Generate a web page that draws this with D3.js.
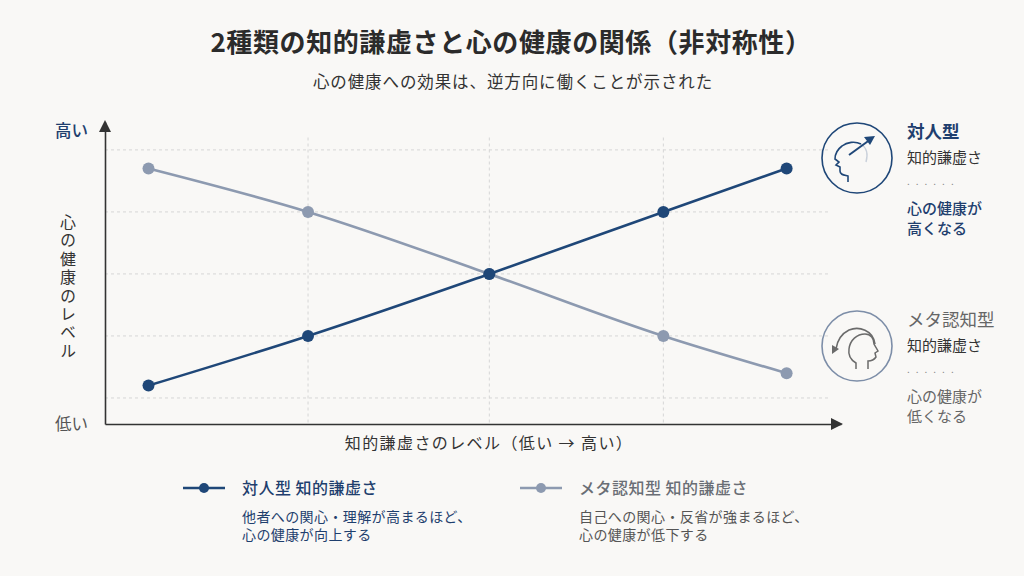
<!DOCTYPE html>
<html>
<head>
<meta charset="utf-8">
<script src="https://cdn.jsdelivr.net/npm/d3@7"></script>
<style>
  body { margin: 0; background: #f9f8f6; }
  svg text { font-family: "Noto Sans CJK JP", "Noto Sans", sans-serif; }
</style>
</head>
<body>
<svg class="chart" width="1024" height="576"></svg>
<script>
// 2 kinds of intellectual humility vs. mental health

var levels = [6, 28, 53, 77, 94];               // humility level (x)
var interpersonal = [1.2, 2.0, 3.0, 4.0, 4.7];   // 対人型
var metacognitive = [4.7, 4.0, 3.0, 2.0, 1.4];   // メタ認知型
var yGrid = [1, 2, 3, 4, 5];
var xGrid = [28, 53, 77];

var seriesNames = ["対人型 知的謙虚さ", "メタ認知型 知的謙虚さ"];
var seriesNotes = [
    ["他者への関心・理解が高まるほど、", "心の健康が向上する"],
    ["自己への関心・反省が強まるほど、", "心の健康が低下する"]
];
var sideTitles = ["対人型", "メタ認知型"];
var sideLines = [["心の健康が", "高くなる"], ["心の健康が", "低くなる"]];

var navy = "#1f4778",
    slate = "#8d9ab0";

var svg = d3.select(".chart");

svg.append("rect")
    .attr("width", 1024)
    .attr("height", 576)
    .attr("fill", "#f9f8f6");

// titles
svg.append("text")
    .attr("x", 511)
    .attr("y", 52)
    .attr("text-anchor", "middle")
    .attr("font-size", "26px")
    .attr("font-weight", "bold")
    .attr("letter-spacing", "0.6px")
    .attr("fill", "#2b2b2b")
    .text("2種類の知的謙虚さと心の健康の関係（非対称性）");

svg.append("text")
    .attr("x", 513)
    .attr("y", 88)
    .attr("text-anchor", "middle")
    .attr("font-size", "16.5px")
    .attr("letter-spacing", "0.9px")
    .attr("fill", "#333")
    .text("心の健康への効果は、逆方向に働くことが示された");

var x = d3.scaleLinear()
    .domain([0, 101.5])
    .range([105, 841]);

var y = d3.scaleLinear()
    .domain([0.58, 5.45])
    .range([424, 122]);

// grid
svg.selectAll(".hgrid")
    .data(yGrid)
    .enter().append("line")
    .attr("class", "hgrid")
    .attr("x1", x(0))
    .attr("x2", x(100))
    .attr("y1", d => y(d))
    .attr("y2", d => y(d))
    .attr("stroke", "#d6d6d6")
    .attr("stroke-width", 1)
    .attr("stroke-dasharray", "3,3");

svg.selectAll(".vgrid")
    .data(xGrid)
    .enter().append("line")
    .attr("class", "vgrid")
    .attr("x1", d => x(d))
    .attr("x2", d => x(d))
    .attr("y1", y(5.2))
    .attr("y2", y(0.58))
    .attr("stroke", "#d6d6d6")
    .attr("stroke-width", 1)
    .attr("stroke-dasharray", "3,3");

// axes (domain lines only) + arrow heads
svg.append("g")
    .attr("transform", "translate(0," + y(0.58) + ")")
    .call(d3.axisBottom(x).tickValues([]).tickSizeOuter(0))
    .select(".domain")
    .attr("stroke", "#333")
    .attr("stroke-width", 1.6);

svg.append("g")
    .attr("transform", "translate(" + x(0) + ",0)")
    .call(d3.axisLeft(y).tickValues([]).tickSizeOuter(0))
    .select(".domain")
    .attr("stroke", "#333")
    .attr("stroke-width", 1.6);

svg.append("path")
    .attr("d", "M0,0 L-6,12 L6,12 Z")
    .attr("transform", "translate(" + x(0) + "," + (y(5.45) - 2) + ")")
    .attr("fill", "#333");

svg.append("path")
    .attr("d", "M0,0 L-12,-6 L-12,6 Z")
    .attr("transform", "translate(" + (x(101.5) + 2) + "," + y(0.58) + ")")
    .attr("fill", "#333");

// axis labels
svg.append("text")
    .attr("x", 88)
    .attr("y", 137)
    .attr("text-anchor", "end")
    .attr("font-size", "16.5px")
    .attr("font-weight", 500)
    .attr("fill", "#1f3f6e")
    .text("高い");

svg.append("text")
    .attr("x", 88)
    .attr("y", 430)
    .attr("text-anchor", "end")
    .attr("font-size", "16.5px")
    .attr("fill", "#555")
    .text("低い");

svg.append("text")
    .attr("x", 68)
    .attr("y", 214)
    .attr("font-size", "16px")
    .attr("fill", "#333")
    .attr("letter-spacing", "2.4px")
    .style("writing-mode", "vertical-rl")
    .style("text-orientation", "upright")
    .text("心の健康のレベル");

svg.append("text")
    .attr("x", 489)
    .attr("y", 449)
    .attr("text-anchor", "middle")
    .attr("font-size", "16px")
    .attr("letter-spacing", "1.4px")
    .attr("fill", "#333")
    .text("知的謙虚さのレベル（低い → 高い）");

// lines
var series = [
    { name: seriesNames[0], values: interpersonal, color: navy },
    { name: seriesNames[1], values: metacognitive, color: slate }
];

var line = d3.line()
    .x(d => x(d[0]))
    .y(d => y(d[1]))
    .curve(d3.curveMonotoneX);

series.slice().reverse().forEach(function (s) {
    var pts = levels.map((lv, i) => [lv, s.values[i]]);
    svg.append("path")
        .datum(pts)
        .attr("fill", "none")
        .attr("stroke", s.color)
        .attr("stroke-width", 2.6)
        .attr("d", line);
    svg.selectAll(null)
        .data(pts)
        .enter().append("circle")
        .attr("cx", d => x(d[0]))
        .attr("cy", d => y(d[1]))
        .attr("r", 6)
        .attr("fill", s.color);
});

// legend
var legendX = [183, 520];
series.forEach(function (s, i) {
    var g = svg.append("g").attr("transform", "translate(" + legendX[i] + ",488)");
    g.append("line")
        .attr("x1", 0).attr("x2", 42)
        .attr("stroke", s.color)
        .attr("stroke-width", 2.6);
    g.append("circle")
        .attr("cx", 21)
        .attr("r", 5)
        .attr("fill", s.color);
    g.append("text")
        .attr("x", 59)
        .attr("y", 6)
        .attr("font-size", "16px")
        .attr("font-weight", 500)
        .attr("letter-spacing", "0.5px")
        .attr("fill", i === 0 ? "#1f3f6e" : "#6a6e75")
        .text(s.name);
    seriesNotes[i].forEach(function (t, j) {
        g.append("text")
            .attr("x", 59)
            .attr("y", 34 + j * 18)
            .attr("font-size", "14px")
            .attr("letter-spacing", "0.4px")
            .attr("fill", i === 0 ? "#1f3f6e" : "#555")
            .text(t);
    });
});

// side notes with icons
var sideY = [158, 346];
var iconColor = [navy, "#7d8ea8"];
sideTitles.forEach(function (t, i) {
    var g = svg.append("g").attr("transform", "translate(857," + sideY[i] + ")");
    g.append("circle")
        .attr("r", 35)
        .attr("fill", "none")
        .attr("stroke", iconColor[i])
        .attr("stroke-width", 1.6);

    if (i === 0) {
        // head facing left, arrow outward
        g.append("path")
            .attr("d", "M-9,24 L-9,18 C-13,17 -17,17 -17,13 L-17,9 L-21,7 L-18,4 L-22,1 C-22,-4 -19,-9 -15,-12 C-10,-16 -2,-17 4,-14")
            .attr("fill", "none")
            .attr("stroke", navy)
            .attr("stroke-width", 1.6);
        g.append("path")
            .attr("d", "M4,-14 C10,-10 11,-3 9,4")
            .attr("fill", "none")
            .attr("stroke", "#c9d0da")
            .attr("stroke-width", 1.4);
        g.append("line")
            .attr("x1", -8).attr("y1", -3)
            .attr("x2", 14).attr("y2", -19)
            .attr("stroke", navy)
            .attr("stroke-width", 2);
        g.append("path")
            .attr("d", "M18,-22 L7,-21 L13,-13 Z")
            .attr("fill", navy);
    } else {
        // head facing right, curved arrow back to self
        g.append("path")
            .attr("d", "M-1,23 L-1,17 C-6,14 -9,9 -8,3 C-7,-6 0,-12 8,-12 C14,-12 17,-7 17,-2 L21,5 L18,7 L19,11 C17,14 14,15 11,15 L11,23")
            .attr("fill", "none")
            .attr("stroke", "#6b6b6b")
            .attr("stroke-width", 1.5);
        g.append("path")
            .attr("d", "M18,-2 C16,-16 2,-20 -8,-16 C-16,-12 -20,-4 -21,3")
            .attr("fill", "none")
            .attr("stroke", "#6b6b6b")
            .attr("stroke-width", 1.6);
        g.append("path")
            .attr("d", "M-25,8 L-25,-1 L-18,3 Z")
            .attr("fill", "#6b6b6b");
    }

    var tx = 907, ty = sideY[i] - 20;
    svg.append("text")
        .attr("x", tx)
        .attr("y", ty)
        .attr("font-size", "17.5px")
        .attr("font-weight", i === 0 ? "bold" : "normal")
        .attr("fill", i === 0 ? "#1f3f6e" : "#666")
        .text(t);
    svg.append("text")
        .attr("x", tx)
        .attr("y", ty + 25)
        .attr("font-size", "15px")
        .attr("fill", "#333")
        .text("知的謙虚さ");
    svg.append("text")
        .attr("x", tx)
        .attr("y", ty + 47)
        .attr("font-size", "10px")
        .attr("fill", "#888")
        .attr("letter-spacing", "6px")
        .text("......");
    sideLines[i].forEach(function (l, j) {
        svg.append("text")
            .attr("x", tx)
            .attr("y", ty + 76 + j * 20)
            .attr("font-size", "15px")
            .attr("font-weight", i === 0 ? 500 : "normal")
            .attr("fill", i === 0 ? "#1f3f6e" : "#666")
            .text(l);
    });
});
</script>
</body>
</html>
